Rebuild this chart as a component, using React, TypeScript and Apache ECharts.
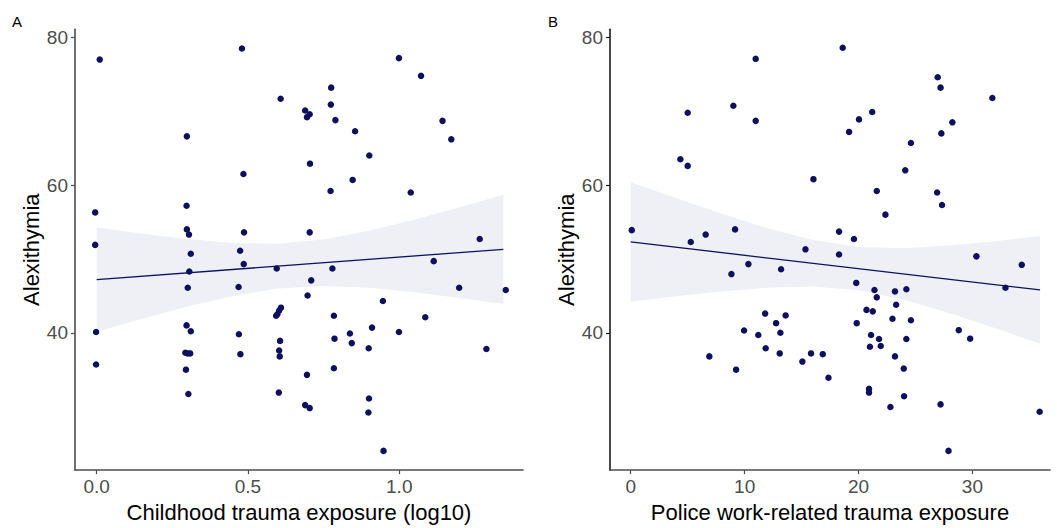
import React, { useEffect, useRef } from "react";
import * as echarts from "echarts";

// Panel A: childhood trauma (log10) vs alexithymia
const childX = [
  0.01, 0.48, 0.999, 1.072, 0.775, 0.608, 0.774, 0.689, 0.704, 0.695, 0.789, 1.143, 0.854, 0.298, 1.172, 0.901,
  0.705, 0.485, 0.846, 0.773, 1.038, -0.005, 0.297, 0.298, 0.305, 0.487, 0.704, -0.005, 1.266, 0.311, 0.474, 0.486,
  1.114, 0.306, 0.595, 0.779, 0.301, 0.469, 0.709, 1.198, 1.352, 0.697, 0.946, 0.609, 0.603, 0.597, 0.593, 0.784,
  1.086, 0.297, 0.91, -0.002, 0.311, 0.47, 0.837, 0.999, 0.606, 0.786, 0.843, 0.899, 1.288, 0.293, 0.301, 0.309,
  0.475, 0.603, 0.605, -0.002, 0.295, 0.784, 0.695, 0.303, 0.602, 0.9, 0.689, 0.704, 0.898, 0.948,
];
const childY = [
  77.0, 78.5, 77.2, 74.8, 73.2, 71.7, 70.9, 70.1, 69.6, 69.2, 68.8, 68.7, 67.3, 66.6, 66.2, 64.0,
  62.9, 61.5, 60.7, 59.2, 59.0, 56.3, 57.2, 54.0, 53.3, 53.6, 53.6, 51.9, 52.7, 50.7, 51.1, 49.3,
  49.7, 48.3, 48.7, 48.7, 46.1, 46.2, 47.1, 46.1, 45.8, 45.05, 44.3, 43.4, 43.0, 42.5, 42.3, 42.3,
  42.1, 41.0, 40.7, 40.1, 40.2, 39.8, 39.9, 40.1, 38.9, 39.2, 38.6, 37.9, 37.8, 37.3, 37.2, 37.2,
  37.1, 37.6, 36.8, 35.7, 35.0, 35.2, 34.3, 31.7, 31.9, 31.1, 30.2, 29.8, 29.2, 24.0,
];
const childFitX = [0, 1.344];
const childFitY = [47.2, 51.3];
const childBandX = [0, 0.15, 0.3, 0.45, 0.6, 0.75, 0.9, 1.05, 1.2, 1.344];
const childBandHi = [54.25, 53.41, 52.69, 52.16, 52.07, 52.64, 53.81, 55.32, 57.0, 58.7];
const childBandLo = [40.15, 41.91, 43.55, 44.98, 45.99, 46.34, 46.09, 45.48, 44.72, 43.9];

// Panel B: police work-related trauma vs alexithymia
const policeX = [
  18.61, 10.97, 26.95, 27.2, 31.75, 9.01, 5.0, 21.2, 10.97, 20.04, 28.24, 19.17, 27.27, 24.6, 4.36, 5.0,
  24.1, 16.04, 21.6, 26.9, 27.33, 22.36, 0.09, 9.16, 6.58, 18.29, 5.27, 19.6, 15.34, 18.29, 30.35, 10.33,
  34.33, 8.84, 13.2, 19.8, 21.4, 23.2, 24.2, 32.9, 21.6, 23.3, 11.8, 13.6, 20.7, 21.25, 22.98, 24.6,
  12.76, 19.84, 9.95, 13.14, 11.2, 21.1, 28.8, 21.8, 24.2, 29.8, 21.0, 21.95, 11.85, 13.08, 15.83, 16.86,
  6.9, 23.2, 15.07, 23.97, 9.25, 17.36, 20.92, 20.92, 24.0, 22.8, 27.2, 35.9, 27.9,
];
const policeY = [
  78.6, 77.1, 74.6, 73.2, 71.8, 70.75, 69.8, 69.9, 68.7, 68.9, 68.5, 67.2, 67.0, 65.7, 63.5, 62.6,
  62.0, 60.8, 59.2, 59.0, 57.3, 56.0, 53.9, 54.0, 53.3, 53.7, 52.3, 52.7, 51.3, 50.6, 50.35, 49.3,
  49.2, 47.95, 48.6, 46.75, 45.8, 45.6, 45.9, 46.1, 44.8, 43.8, 42.6, 42.35, 43.1, 42.9, 41.9, 41.7,
  41.3, 41.3, 40.3, 40.0, 39.7, 39.7, 40.35, 39.15, 39.15, 39.2, 38.1, 38.2, 37.9, 37.2, 37.2, 37.1,
  36.8, 36.8, 36.1, 35.15, 35.0, 33.9, 32.4, 31.9, 31.4, 29.95, 30.3, 29.3, 24.0,
];
const policeFitX = [0, 35.94];
const policeFitY = [52.3, 45.8];
const policeBandX = [0, 4, 8, 12, 16, 20, 24, 28, 32, 35.94];
const policeBandHi = [60.4, 58.22, 56.11, 54.16, 52.55, 51.6, 51.46, 51.81, 52.41, 53.1];
const policeBandLo = [44.2, 44.94, 45.59, 46.1, 46.27, 45.76, 44.46, 42.65, 40.61, 38.5];

const yTicks = [40, 60, 80];
const childTicks = [0, 0.5, 1.0];
const policeTicks = [0, 10, 20, 30];

const NAVY = "#0f0f5f";
const BAND = "#eef0f6";
const FONT = "Liberation Sans, Arial, sans-serif";

function zip(a: number[], b: number[]) {
  return a.map((v, i) => [v, b[i]]);
}

function bandSeries(idx: number, bx: number[], hi: number[], lo: number[]) {
  return {
    type: "custom",
    xAxisIndex: idx,
    yAxisIndex: idx,
    silent: true,
    z: 1,
    data: bx.map((x, i) => [x, lo[i], hi[i]]),
    encode: { x: 0, y: [1, 2] },
    renderItem: (params: any, api: any) => {
      if (params.dataIndex !== 0) return null;
      const pts: number[][] = [];
      for (let i = 0; i < bx.length; i++) pts.push(api.coord([bx[i], hi[i]]));
      for (let i = bx.length - 1; i >= 0; i--) pts.push(api.coord([bx[i], lo[i]]));
      return { type: "polygon", shape: { points: pts }, style: { fill: BAND } };
    },
  };
}

function xAxis(idx: number, min: number, max: number, ticks: number[], name: string, fmt: (v: number) => string, color: string) {
  return {
    type: "value",
    gridIndex: idx,
    min,
    max,
    name,
    nameLocation: "middle",
    nameGap: 30,
    nameTextStyle: { fontSize: 22, color: "#000", fontFamily: FONT },
    axisLine: { show: true, onZero: false, lineStyle: { color, width: 1.6 } },
    axisTick: { show: true, length: 4, customValues: ticks, lineStyle: { color, width: 1.2 } },
    axisLabel: { customValues: ticks, formatter: fmt, fontSize: 19, color: "#4d4d4d", margin: 7, fontFamily: FONT },
    splitLine: { show: false },
  };
}

function yAxis(idx: number, color: string) {
  return {
    type: "value",
    gridIndex: idx,
    min: 21.4,
    max: 81.1,
    name: "Alexithymia",
    nameLocation: "middle",
    nameGap: 32,
    nameTextStyle: { fontSize: 22, color: "#000", fontFamily: FONT },
    axisLine: { show: true, onZero: false, lineStyle: { color, width: 1.6 } },
    axisTick: { show: true, length: 4, customValues: yTicks, lineStyle: { color, width: 1.2 } },
    axisLabel: { customValues: yTicks, fontSize: 19, color: "#4d4d4d", margin: 7, fontFamily: FONT },
    splitLine: { show: false },
  };
}

export default function App() {
  const ref = useRef<HTMLDivElement>(null);
  useEffect(() => {
    if (!ref.current) return;
    const chart = echarts.init(ref.current, undefined, { renderer: "svg" });
    chart.setOption({
      animation: false,
      backgroundColor: "#fff",
      textStyle: { fontFamily: FONT },
      grid: [
        { left: 75, top: 29.3, width: 448, height: 449 },
        { left: 610, top: 29.3, width: 440, height: 449 },
      ],
      xAxis: [
        xAxis(0, -0.0717, 1.409, childTicks, "Childhood trauma exposure (log10)", (v: number) => v.toFixed(1), "#4d4d4d"),
        xAxis(1, -1.82, 36.81, policeTicks, "Police work-related trauma exposure", (v: number) => String(v), "#4d4d4d"),
      ],
      yAxis: [yAxis(0, "#4d4d4d"), yAxis(1, "#1a1a1a")],
      graphic: [
        { type: "text", left: 12, top: 13.5, style: { text: "A", fontSize: 15, fill: "#000", fontFamily: FONT } },
        { type: "text", left: 548, top: 13.5, style: { text: "B", fontSize: 15, fill: "#000", fontFamily: FONT } },
      ],
      series: [
        bandSeries(0, childBandX, childBandHi, childBandLo),
        bandSeries(1, policeBandX, policeBandHi, policeBandLo),
        {
          type: "scatter",
          xAxisIndex: 0,
          yAxisIndex: 0,
          z: 3,
          symbolSize: 6.5,
          itemStyle: { color: NAVY, opacity: 1 },
          data: zip(childX, childY),
        },
        {
          type: "scatter",
          xAxisIndex: 1,
          yAxisIndex: 1,
          z: 3,
          symbolSize: 6.5,
          itemStyle: { color: NAVY, opacity: 1 },
          data: zip(policeX, policeY),
        },
        {
          type: "line",
          xAxisIndex: 0,
          yAxisIndex: 0,
          z: 4,
          showSymbol: false,
          lineStyle: { color: NAVY, width: 1.3 },
          data: zip(childFitX, childFitY),
        },
        {
          type: "line",
          xAxisIndex: 1,
          yAxisIndex: 1,
          z: 4,
          showSymbol: false,
          lineStyle: { color: NAVY, width: 1.3 },
          data: zip(policeFitX, policeFitY),
        },
      ],
    });
    return () => chart.dispose();
  }, []);
  return <div ref={ref} style={{ position: "absolute", left: 0, top: 0, width: 1057, height: 528 }} />;
}
